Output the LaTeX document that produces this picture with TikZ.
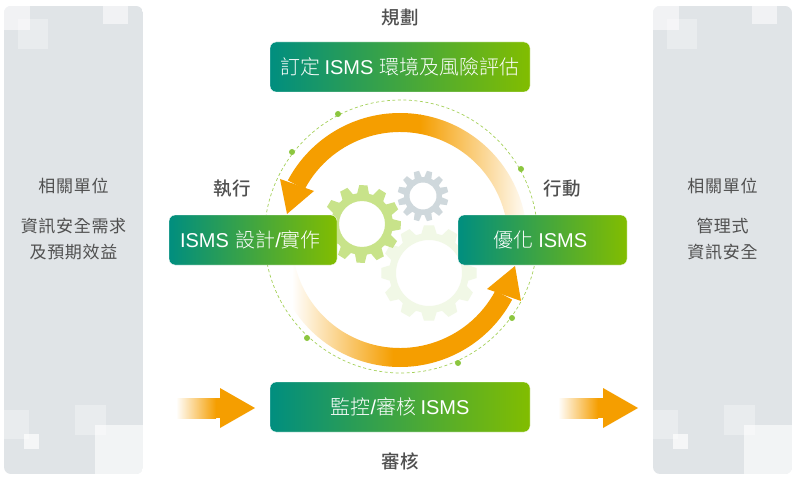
\documentclass[tikz,border=0pt]{standalone}
\usepackage{fontspec}
\setmainfont{Noto Sans CJK TC}
\newfontfamily\cjkl{Noto Sans CJK TC Light}
\newfontfamily\cjkm{Noto Sans CJK TC Medium}
\newfontfamily\cjksp[LetterSpace=4]{Noto Sans CJK TC}
\newfontfamily\lat{Liberation Sans}
\usetikzlibrary{calc}
\definecolor{orng}{HTML}{F59E00}
\definecolor{teal1}{HTML}{008E7F}
\definecolor{lime1}{HTML}{82BD00}
\definecolor{panel}{HTML}{E0E4E7}
\definecolor{txt}{HTML}{505050}
\definecolor{dotg}{HTML}{8CC63F}
\definecolor{ring}{HTML}{A5D15A}
\definecolor{gearA}{HTML}{F1F8E6}
\definecolor{gearB}{HTML}{C8E38A}
\definecolor{gearC}{HTML}{CFD8DC}
\tikzset{
  x=1pt,y=1pt,
  gbox/.style={rounded corners=6pt,left color=teal1,right color=lime1,draw=white,line width=.4pt,
    minimum height=50pt,inner sep=0pt,text=white,font=\fontsize{20}{24}\cjkl\selectfont},
  lab/.style={text=txt,font=\fontsize{18.5}{22}\cjkm\selectfont,inner sep=0pt},
  ptxt/.style={text=txt,font=\fontsize{17}{20}\cjksp\selectfont,inner sep=0pt},
  cdot/.style={circle,fill=dotg,inner sep=0pt,minimum size=6pt},
}
\newcommand{\gearpath}[7]{% cx cy root tip hole phase colour
  \fill[#7,even odd rule] ([shift={(#1,#2)}]{#6-11}:#3)
    \foreach \i in {0,...,11} {
      -- ([shift={(#1,#2)}]{#6+\i*30-11}:#3)
      -- ([shift={(#1,#2)}]{#6+\i*30-6}:#4)
      -- ([shift={(#1,#2)}]{#6+\i*30+6}:#4)
      -- ([shift={(#1,#2)}]{#6+\i*30+11}:#3)
    } -- cycle (#1,#2) circle (#5);
}
\newcommand{\sidepanel}[1]{%
  \begin{scope}[shift={(#1,0)}]
    \begin{scope}
      \clip[rounded corners=7pt] (4,6) rectangle (143,474);
      \fill[panel] (4,6) rectangle (143,474);
      \fill[white,opacity=.55] (4,450) rectangle (30,474);
      \fill[white,opacity=.3] (18,431) rectangle (48,461);
      \fill[white,opacity=.55] (103,456) rectangle (128,474);
      \fill[white,opacity=.3] (4,41) rectangle (29,70);
      \fill[white,opacity=.3] (75,45) rectangle (106,75);
      \fill[white,opacity=.7] (24,31) rectangle (39,46);
      \fill[white,opacity=.6] (95,6) rectangle (143,55);
    \end{scope}
  \end{scope}
}
\begin{document}
\begin{tikzpicture}
\useasboundingbox (0,0) rectangle (800,480);
\fill[white] (0,0) rectangle (800,480);
% side panels
\sidepanel{0}
\sidepanel{649}
\node[ptxt] (s1) at (73.5,294) {相關單位};
\node[ptxt] (s2) at (73.5,254) {資訊安全需求};
\node[ptxt] (s3) at (73.5,228) {及預期效益};
\node[ptxt] (r1) at (722.5,294) {相關單位};
\node[ptxt] (r2) at (722.5,254) {管理式};
\node[ptxt] (r3) at (722.5,228) {資訊安全};
% dashed ring
\coordinate (c) at (400,240);
\draw[ring,line width=.7pt,dash pattern=on 3pt off 2.5pt] (401,243.5) circle (136.5);
\node[cdot] (d1) at (338,366) {};
\node[cdot] (d2) at (292,328) {};
\node[cdot] (d3) at (521,311) {};
\node[cdot] (d4) at (512,162) {};
\node[cdot] (d5) at (458,117) {};
\node[cdot] (d6) at (307,142) {};
% gears
\gearpath{429}{207}{40}{48}{33}{0}{gearA}
\gearpath{362}{256}{31}{39}{23}{-2}{gearB}
\gearpath{423}{284}{19}{25.5}{13.5}{15}{gearC}
% top arc
\begin{scope}
  \clip (c) ++(-2:127) arc (-2:152:127) -- ($(c)+(152:108)$) arc (152:-2:108) -- cycle;
  \fill[orng] (260,200) rectangle (420.5,380);
  \shade[left color=orng,right color=white] (420,200) rectangle (530,380);
\end{scope}
\fill[orng] (280,301) -- (287,266) -- (314,289) -- cycle;
% bottom arc
\begin{scope}
  \clip (c) ++(178:127) arc (178:332:127) -- ($(c)+(332:108)$) arc (332:178:108) -- cycle;
  \fill[orng] (392.5,100) rectangle (540,300);
  \shade[left color=white,right color=orng] (292,100) rectangle (393,300);
\end{scope}
\fill[orng] (515,214) -- (521,179) -- (487,191) -- cycle;
% boxes
\node[gbox,minimum width=260pt] (plan) at (400,413) {訂定 {\lat ISMS}\hspace{2pt} 環境及風險評估};
\node[gbox,minimum width=168pt] (do) at (253,240) {{\lat ISMS}\hspace{2pt} 設計{\lat /}實作\hspace{5pt}\null};
\node[gbox,minimum width=169pt] (act) at (542.5,240) {優化 {\lat ISMS}\hspace{4pt}\null};
\node[gbox,minimum width=260pt] (chk) at (400,73) {監控{\lat /}審核 {\lat ISMS}};
% labels
\node[lab] (l1) at (400,463) {規劃};
\node[lab] (l2) at (232,291) {執行};
\node[lab] (l3) at (562,291) {行動};
\node[lab] (l4) at (400,19) {審核};
% flow arrows
\shade[left color=white,right color=orng] (176,62) rectangle (216,82);
\fill[orng] (215.5,62) rectangle (220.5,82);
\fill[orng] (220,92) -- (255,72) -- (220,52) -- cycle;
\shade[left color=white,right color=orng] (558,62) rectangle (598,82);
\fill[orng] (597.5,62) rectangle (603.5,82);
\fill[orng] (603,92) -- (638,72) -- (603,52) -- cycle;
\end{tikzpicture}
\end{document}
